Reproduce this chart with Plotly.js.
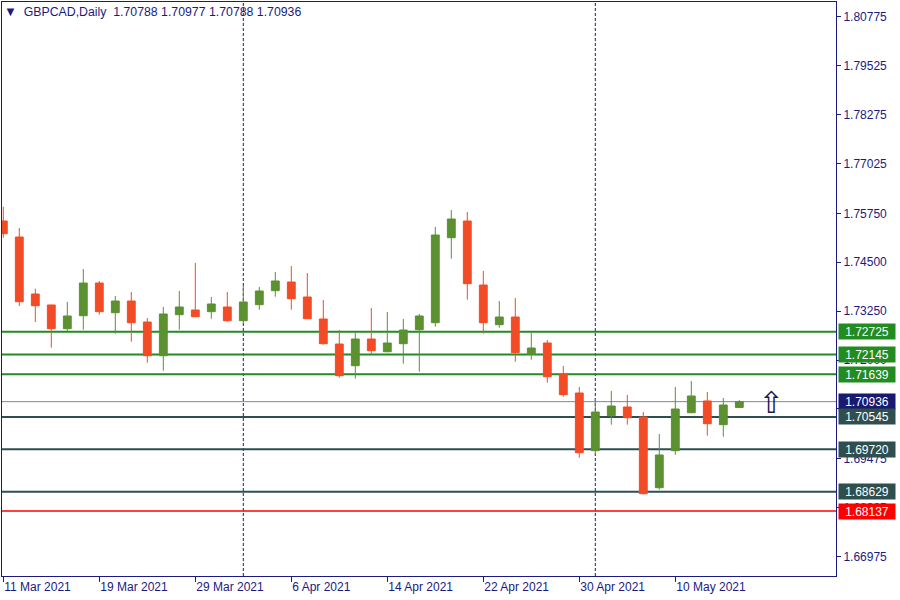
<!DOCTYPE html>
<html><head><meta charset="utf-8">
<script src="https://cdn.plot.ly/plotly-3.0.1.min.js"></script>
<style>html,body{margin:0;padding:0;background:#fff}#chart{width:900px;height:600px}</style>
</head><body><div id="chart"></div>
<script>
// ---- data ----
const dates = ['2021-03-11','2021-03-12','2021-03-15','2021-03-16','2021-03-17','2021-03-18','2021-03-19',
'2021-03-22','2021-03-23','2021-03-24','2021-03-25','2021-03-26','2021-03-29','2021-03-30','2021-03-31',
'2021-04-01','2021-04-02','2021-04-05','2021-04-06','2021-04-07','2021-04-08','2021-04-09',
'2021-04-12','2021-04-13','2021-04-14','2021-04-15','2021-04-16','2021-04-19','2021-04-20','2021-04-21',
'2021-04-22','2021-04-23','2021-04-26','2021-04-27','2021-04-28','2021-04-29','2021-04-30',
'2021-05-03','2021-05-04','2021-05-05','2021-05-06','2021-05-07','2021-05-10','2021-05-11','2021-05-12',
'2021-05-13','2021-05-14'];
const open = [1.75556,1.75147,1.73689,1.73408,1.72802,1.73134,1.73970,1.73211,1.73510,1.72973,
1.72111,1.73160,1.73280,1.73237,1.73357,1.73006,1.73416,1.73774,1.73996,1.73612,
1.73050,1.72410,1.71855,1.72538,1.72213,1.72418,1.72776,1.72955,1.75129,1.75556,
1.73919,1.72904,1.73101,1.72147,1.72436,1.71643,1.71157,1.69682,1.70577,1.70799,
1.70543,1.68735,1.69682,1.70653,1.70953,1.70347,1.70788];
const high = [1.75922,1.75377,1.73825,1.73415,1.73485,1.74329,1.74022,1.73638,1.73740,1.73075,
1.73357,1.73766,1.74482,1.73612,1.73740,1.73894,1.73868,1.74252,1.74405,1.74226,
1.73536,1.72768,1.72717,1.73331,1.73229,1.73050,1.73178,1.75403,1.75837,1.75786,
1.74277,1.73510,1.73587,1.72699,1.72513,1.71848,1.71311,1.71029,1.71208,1.71106,
1.70671,1.70109,1.71311,1.71464,1.71183,1.71029,1.70977];
const low = [1.75129,1.73382,1.72973,1.72316,1.72743,1.72776,1.73160,1.72674,1.72469,1.71932,
1.71728,1.72776,1.73100,1.73057,1.72981,1.72930,1.73288,1.73620,1.73288,1.73050,
1.72393,1.71549,1.71523,1.72162,1.72200,1.71907,1.71702,1.72853,1.74592,1.73543,
1.72674,1.72827,1.71958,1.72009,1.71421,1.71063,1.69503,1.69579,1.70347,1.70347,
1.68560,1.68684,1.69579,1.70640,1.70065,1.70040,1.70788];
const close = [1.75231,1.73492,1.73390,1.72802,1.73127,1.73970,1.73237,1.73510,1.72955,1.72111,
1.73178,1.73357,1.73109,1.73433,1.73006,1.73485,1.73766,1.74022,1.73569,1.73057,
1.72418,1.71600,1.72538,1.72239,1.72436,1.72768,1.73127,1.75198,1.75607,1.73953,
1.72955,1.73101,1.72188,1.72308,1.71574,1.71114,1.69630,1.70671,1.70825,1.70526,
1.68582,1.69572,1.70748,1.71081,1.70372,1.70850,1.70936];

const tickDateKeys = ['2021-03-11','2021-03-19','2021-03-29','2021-04-06','2021-04-14','2021-04-22','2021-04-30','2021-05-10'];
const tickLabels = ['11 Mar 2021','19 Mar 2021','29 Mar 2021','6 Apr 2021','14 Apr 2021','22 Apr 2021','30 Apr 2021','10 May 2021'];
const priceTicks = [1.80775,1.79525,1.78275,1.77025,1.75750,1.74500,1.73250,1.72000,1.70750,1.69475,1.68225,1.66975];

const greenLevels = [1.72725,1.72145,1.71639];
const slateLevels = [1.70545,1.69720,1.68629];
const redLevels = [1.68137];

const signalIndex = [48];
const signalPrice = [1.7083];

const symbolName = 'GBPCAD';
const periodName = 'Daily';

// ---- styling ----
const NAVY = '#1a1a80';
const BULL = '#5b9131';
const BEAR = '#f24b26';
const GREEN = '#228b22';
const SLATE = '#2f4f4f';
const RED = '#ff0000';
const CUR = '#778899';
const CURBOX = '#191970';
const FONT = 'Liberation Sans, Arial, sans-serif';

const idx = dates.map((d, i) => i);
const tickIdx = tickDateKeys.map(d => dates.indexOf(d));
const separators = idx.filter(i => i > 0 && dates[i].slice(5, 7) !== dates[i - 1].slice(5, 7));
const last = close.length - 1;
const currentPrice = close[last];

const traces = [
  {
    type: 'candlestick', x: idx, open: open, high: high, low: low, close: close,
    increasing: {line: {color: BULL, width: 1}, fillcolor: BULL},
    decreasing: {line: {color: BEAR, width: 1}, fillcolor: BEAR},
    whiskerwidth: 0, hoverinfo: 'none', showlegend: false
  },
  {
    type: 'scatter', mode: 'text', x: signalIndex, y: signalPrice, text: ['⇧'],
    textfont: {family: 'DejaVu Sans', size: 30, color: '#1a1a50'},
    hoverinfo: 'none', showlegend: false, cliponaxis: false
  }
];

const shapes = [];
const annotations = [];
function level(y, color, width, box) {
  shapes.push({type: 'line', xref: 'paper', x0: 0, x1: 1, yref: 'y', y0: y, y1: y,
    line: {color: color, width: width}, layer: 'below'});
  annotations.push({xref: 'paper', x: 1, xanchor: 'left', xshift: 2, yref: 'y', y: y, yanchor: 'middle',
    text: y.toFixed(5), showarrow: false, bgcolor: box, width: 54, height: 13, borderpad: 1,
    font: {family: FONT, size: 12, color: '#ffffff'}});
}
separators.forEach(i => shapes.push({type: 'line', xref: 'x', x0: i, x1: i, yref: 'paper', y0: 0, y1: 1,
  line: {color: NAVY, width: 1, dash: '3px,2px'}, layer: 'below'}));
level(currentPrice, CUR, 1, CURBOX);
greenLevels.forEach(v => level(v, GREEN, 2, GREEN));
slateLevels.forEach(v => level(v, SLATE, 2, SLATE));
redLevels.forEach(v => level(v, RED, 1.5, RED));

const layout = {
  width: 900, height: 600,
  margin: {l: 2, r: 64, t: 2, b: 24},
  paper_bgcolor: '#ffffff', plot_bgcolor: '#ffffff',
  showlegend: false,
  title: {
    text: '<span style="font-size:13px">▼</span>  ' + symbolName + ',' + periodName + '  ' +
      [open[last], high[last], low[last], close[last]].map(v => v.toFixed(5)).join(' '),
    x: 4 / 900, xanchor: 'left', xref: 'container', y: 1 - 12 / 600, yanchor: 'middle',
    font: {family: FONT, size: 12.3, color: NAVY}
  },
  xaxis: {
    range: [-0.081, 52.044], showgrid: false, zeroline: false,
    showline: true, mirror: true, linecolor: NAVY, linewidth: 1,
    tickmode: 'array', tickvals: tickIdx, ticktext: tickLabels,
    ticks: 'outside', ticklen: 5, tickcolor: NAVY, ticklabelposition: 'outside right',
    tickfont: {family: FONT, size: 12, color: NAVY},
    rangeslider: {visible: false}, fixedrange: true
  },
  yaxis: {
    side: 'right', range: [1.66477, 1.81157], showgrid: false, zeroline: false,
    showline: true, mirror: true, linecolor: NAVY, linewidth: 1,
    tickmode: 'array', tickvals: priceTicks, tickformat: '.5f',
    ticks: 'outside', ticklen: 4, tickcolor: NAVY,
    tickfont: {family: FONT, size: 12, color: NAVY}, fixedrange: true
  },
  shapes: shapes,
  annotations: annotations
};

Plotly.newPlot('chart', traces, layout, {displayModeBar: false, staticPlot: true});
</script>
</body></html>
